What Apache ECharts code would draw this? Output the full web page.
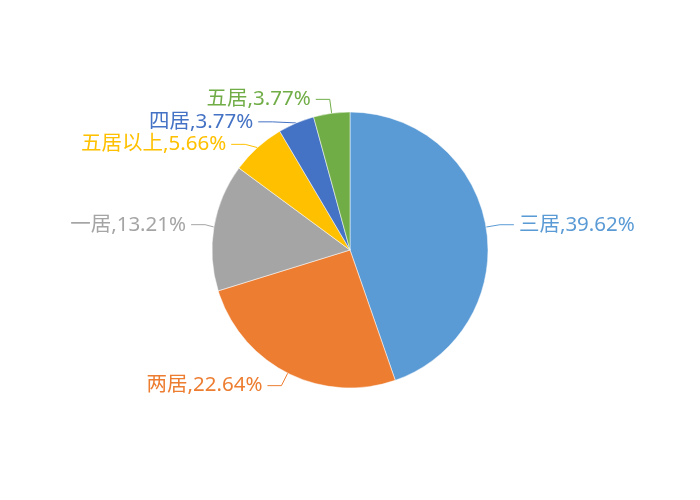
<!DOCTYPE html>
<html>
<head>
<meta charset="utf-8">
<script src="https://cdn.jsdelivr.net/npm/echarts@6/dist/echarts.min.js"></script>
<style>
    html, body { margin: 0; padding: 0; background: #fff; }
    #chart { width: 700px; height: 500px; }
</style>
</head>
<body>
<div id="chart"></div>
<script>
    var categories = ['三居', '两居', '一居', '五居以上', '四居', '五居'];
    var values = [39.62, 22.64, 13.21, 5.66, 3.77, 3.77];
    var colors = ['#5B9BD5', '#ED7D31', '#A5A5A5', '#FFC000', '#4472C4', '#70AD47'];

    echarts.init(document.getElementById('chart')).setOption({
        color: colors,
        series: [
            {
                type: 'pie',
                center: [350, 250],
                radius: 138,
                startAngle: 90,
                clockwise: true,
                animation: false,
                itemStyle: {
                    borderColor: '#fff',
                    borderWidth: 0.5
                },
                label: {
                    show: true,
                    position: 'outside',
                    fontFamily: '"Noto Sans", "Noto Sans CJK SC"',
                    fontSize: 20.5,
                    color: 'inherit',
                    formatter: function (e) {
                        return e.name + ',' + e.value.toFixed(2) + '%';
                    }
                },
                labelLine: {
                    show: true,
                    length: 14,
                    length2: 14,
                    lineStyle: { width: 1 }
                },
                data: categories.map(function (c, i) {
                    return {name: c, value: values[i]};
                })
            }
        ]
    });
</script>
</body>
</html>
